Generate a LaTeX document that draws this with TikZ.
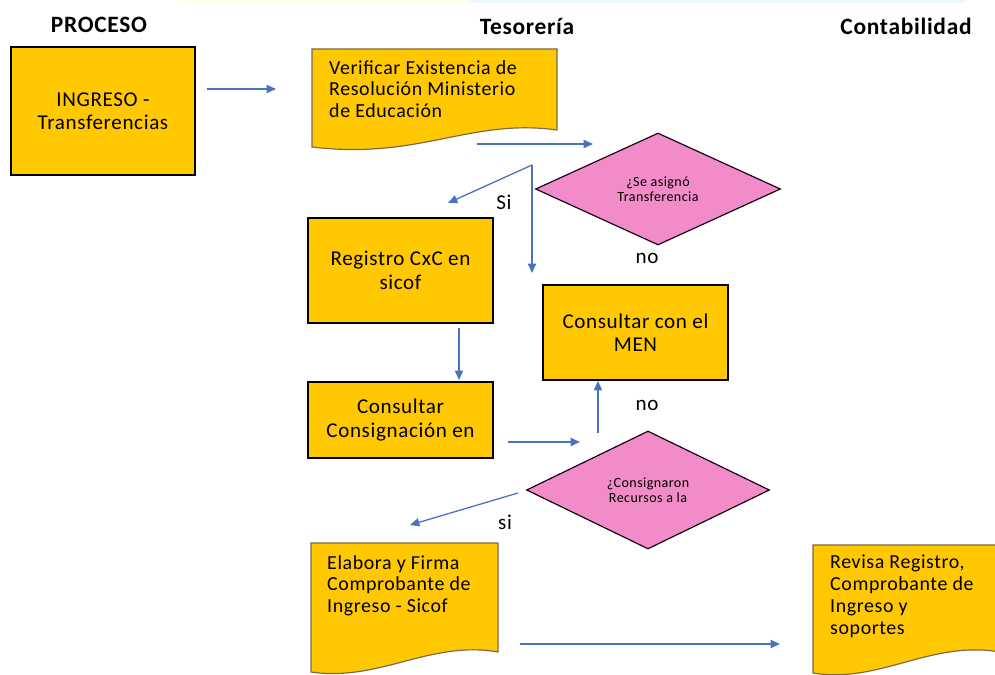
\documentclass[tikz,border=0pt]{standalone}
\usepackage{fontspec}
\setmainfont{Carlito}[LetterSpace=3]
\usepackage{tikz}
\usetikzlibrary{shapes.geometric,arrows.meta}

\definecolor{boxgold}{RGB}{255,200,0}
\definecolor{diapink}{RGB}{242,140,200}
\definecolor{flowblue}{RGB}{74,114,190}
\definecolor{docedge}{RGB}{125,105,70}

\tikzset{
  procbox/.style={draw=black, line width=1.4pt, fill=boxgold, align=center, inner sep=0pt, font=\fontsize{18}{20}\selectfont},
  decision/.style={diamond, draw=black!85!violet, line width=1pt, fill=diapink, align=center, inner sep=0pt, font=\fontsize{12}{13}\selectfont},
  doctext/.style={anchor=north west, align=left, inner sep=0pt, font=\fontsize{17}{18.7}\selectfont},
  docshape/.style={fill=boxgold, draw=docedge, line width=1pt},
  flow/.style={draw=flowblue, line width=1.1pt, -{Triangle[length=8pt,width=7pt]}},
  lane/.style={font=\fontsize{20}{23}\selectfont\bfseries},
  answer/.style={font=\fontsize{18}{20}\selectfont}
}

\begin{document}
\begin{tikzpicture}[x=0.03cm,y=-0.03cm]
			\useasboundingbox (0,0) rectangle (995,675);
			\clip (0,0) rectangle (995,675);
			\fill[yellow!10] (180,0) rectangle (470,3);
			\fill[cyan!8] (470,0) rectangle (965,3);
			% lanes
			\node[lane] (proceso) at (99,25) {PROCESO};
			\node[lane] (tesoreria) at (527,26) {Tesorería};
			\node[lane] (contabilidad) at (906,26) {Contabilidad};
			% document shapes
			\draw[docshape] (312,49) -- (557,49) -- (557,130) .. controls (470,118) and (420,160) .. (312,147) -- cycle;
			\draw[docshape] (311,543) -- (498,543) -- (498,652) .. controls (430,640) and (380,682) .. (311,672) -- cycle;
			\draw[docshape] (813,545) -- (1000,545) -- (1000,652) .. controls (930,640) and (880,684) .. (813,673) -- cycle;
			\node[doctext] (verificar) at (329,60) {Verificar Existencia de\\Resolución Ministerio\\de Educación};
			\node[doctext] (elabora) at (327,555) {Elabora y Firma\\Comprobante de\\Ingreso - Sicof};
			\node[doctext] (revisa) at (830,555) {Revisa Registro,\\Comprobante de\\Ingreso y\\soportes};
			% process boxes
			\node[procbox, minimum width=5.52cm, minimum height=3.84cm] (ingreso) at (103,111) {INGRESO -\\Transferencias};
			\node[procbox, minimum width=5.55cm, minimum height=3.15cm] (registro) at (400.5,270.5) {Registro CxC en\\sicof};
			\node[procbox, minimum width=5.55cm, minimum height=2.28cm] (consigna) at (400.5,420) {Consultar\\Consignación en};
			\node[procbox, minimum width=5.55cm, minimum height=2.85cm] (men) at (635.5,332.5) {Consultar con el\\MEN};
			% decisions
			\node[decision, minimum width=7.35cm, minimum height=3.36cm] (asigno) at (658,189) {¿Se asignó\\Transferencia};
			\node[decision, minimum width=7.29cm, minimum height=3.54cm] (consignaron) at (648,490) {¿Consignaron\\Recursos a la};
			% connector ends
			\coordinate (i1) at (207,89);
			\coordinate (v1) at (276,89);
			\coordinate (v2) at (477,144);
			\coordinate (d1) at (593,144);
			\coordinate (fork) at (532,165);
			\coordinate (siend) at (448,203);
			\coordinate (downend) at (532,273);
			\coordinate (r1) at (459,328);
			\coordinate (c1) at (459,380);
			\coordinate (c2) at (508,442);
			\coordinate (d2) at (580,442);
			\coordinate (n1) at (598,433);
			\coordinate (m1) at (598,381);
			\coordinate (s1) at (518,493);
			\coordinate (e1) at (410,525);
			\coordinate (e2) at (520,644);
			\coordinate (rv) at (780,644);
			\draw[flow] (i1) -- (v1);
			\draw[flow] (v2) -- (d1);
			\draw[flow] (fork) -- (siend);
			\draw[flow] (fork) -- (downend);
			\draw[flow] (r1) -- (c1);
			\draw[flow] (c2) -- (d2);
			\draw[flow] (n1) -- (m1);
			\draw[flow] (s1) -- (e1);
			\draw[flow] (e2) -- (rv);
			% answers
			\node[answer] (si1) at (504,202) {Si};
			\node[answer] (no1) at (647,258) {no};
			\node[answer] (no2) at (647,405) {no};
			\node[answer] (si2) at (505,522) {si};
		\end{tikzpicture}
\end{document}
